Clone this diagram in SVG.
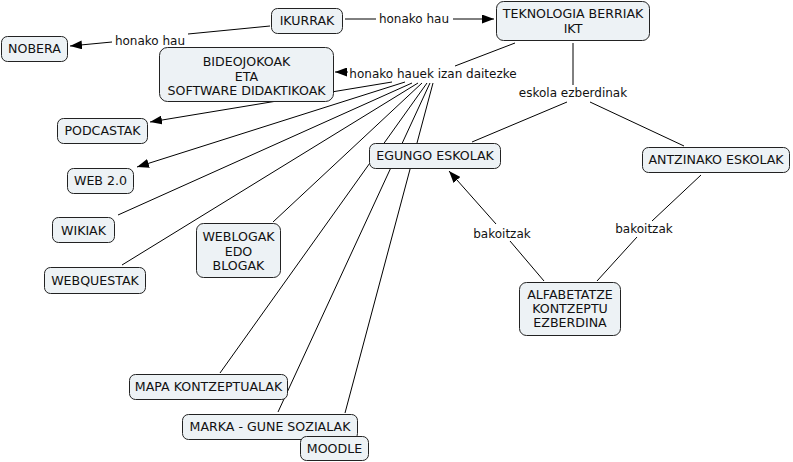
<svg xmlns="http://www.w3.org/2000/svg" width="793" height="462" viewBox="0 0 793 462">
<defs>
<marker id="arr" viewBox="0 0 12 9" refX="12" refY="4.5" markerWidth="12" markerHeight="9" markerUnits="userSpaceOnUse" orient="auto">
<path d="M0,0 L12,4.5 L0,9 z" fill="#000"/>
</marker>
<style>
rect.n{fill:#edf2f5;stroke:#222;stroke-width:1}
text{font-family:"DejaVu Sans",Verdana,sans-serif;font-size:12px;fill:#111;text-anchor:middle}
g.node text{font-size:12.6px}
#connectors line{stroke:#000;stroke-width:1;fill:none}
line.a{marker-end:url(#arr)}
</style>
</defs>
<rect width="793" height="462" fill="#fff"/>
<g id="connectors">
<line x1="270" y1="26" x2="188" y2="34"/>
<line class="a" x1="112" y1="42" x2="70" y2="46"/>
<line x1="345" y1="19" x2="376" y2="19"/>
<line class="a" x1="453" y1="19" x2="494" y2="19"/>
<line x1="515" y1="43" x2="455" y2="66"/>
<line x1="573" y1="43" x2="573" y2="85"/>
<line x1="567" y1="102" x2="472" y2="142"/>
<line x1="590" y1="102" x2="684" y2="146"/>
<line x1="544" y1="281" x2="510" y2="241"/>
<line class="a" x1="496" y1="224" x2="449" y2="171"/>
<line x1="597" y1="281" x2="637" y2="237"/>
<line x1="652" y1="221" x2="701" y2="175"/>
<line class="a" x1="348" y1="72" x2="335" y2="72"/>
<line class="a" x1="392" y1="82" x2="150" y2="122"/>
<line class="a" x1="405" y1="82" x2="137" y2="167"/>
<line x1="412" y1="83" x2="118" y2="215"/>
<line x1="418" y1="83" x2="122" y2="265"/>
<line x1="422" y1="83" x2="273" y2="222"/>
<line x1="427" y1="83" x2="220" y2="373"/>
<line x1="430" y1="83" x2="278" y2="412"/>
<line x1="433" y1="83" x2="345" y2="413"/>
</g>
<g id="labels">
<text x="150" y="45">honako hau</text>
<text x="414" y="23">honako hau</text>
<text x="433" y="78">honako hauek izan daitezke</text>
<text x="573" y="97">eskola ezberdinak</text>
<text x="502" y="238">bakoitzak</text>
<text x="644" y="233">bakoitzak</text>
</g>
<g id="n-ikurrak" class="node"><rect class="n" x="271.5" y="8.5" width="71" height="25" rx="6"/><text x="307" y="25">IKURRAK</text></g>
<g id="n-teknologia" class="node"><rect class="n" x="496.5" y="1.5" width="153" height="39" rx="7"/><text x="573" y="18">TEKNOLOGIA BERRIAK</text><text x="573" y="33">IKT</text></g>
<g id="n-nobera" class="node"><rect class="n" x="1.5" y="36.5" width="66" height="25" rx="6"/><text x="34.5" y="53">NOBERA</text></g>
<g id="n-bideojokoak" class="node"><rect class="n" x="159.5" y="47.5" width="174" height="54" rx="8"/><text x="246.5" y="66">BIDEOJOKOAK</text><text x="246.5" y="80.5">ETA</text><text x="246.5" y="95">SOFTWARE DIDAKTIKOAK</text></g>
<g id="n-podcastak" class="node"><rect class="n" x="57.5" y="118.5" width="90" height="25" rx="6"/><text x="102.5" y="135">PODCASTAK</text></g>
<g id="n-web20" class="node"><rect class="n" x="67.5" y="168.5" width="66" height="25" rx="6"/><text x="100.5" y="185">WEB 2.0</text></g>
<g id="n-wikiak" class="node"><rect class="n" x="52.5" y="217.5" width="62" height="25" rx="6"/><text x="83.5" y="235">WIKIAK</text></g>
<g id="n-webquestak" class="node"><rect class="n" x="44.5" y="267.5" width="101" height="26" rx="6"/><text x="95" y="285">WEBQUESTAK</text></g>
<g id="n-weblogak" class="node"><rect class="n" x="196.5" y="223.5" width="84" height="54" rx="7"/><text x="238.5" y="241">WEBLOGAK</text><text x="238.5" y="255.5">EDO</text><text x="238.5" y="270">BLOGAK</text></g>
<g id="n-egungo" class="node"><rect class="n" x="369.5" y="143.5" width="131" height="25" rx="6"/><text x="435" y="160">EGUNGO ESKOLAK</text></g>
<g id="n-antzinako" class="node"><rect class="n" x="642.5" y="147.5" width="147" height="25" rx="6"/><text x="716" y="164">ANTZINAKO ESKOLAK</text></g>
<g id="n-alfabetatze" class="node"><rect class="n" x="519.5" y="282.5" width="101" height="53" rx="7"/><text x="570" y="299">ALFABETATZE</text><text x="570" y="313">KONTZEPTU</text><text x="570" y="327">EZBERDINA</text></g>
<g id="n-mapa" class="node"><rect class="n" x="129.5" y="374.5" width="158" height="25" rx="6"/><text x="208.5" y="391">MAPA KONTZEPTUALAK</text></g>
<g id="n-marka" class="node"><rect class="n" x="182.5" y="414.5" width="175" height="25" rx="6"/><text x="270" y="431">MARKA - GUNE SOZIALAK</text></g>
<g id="n-moodle" class="node"><rect class="n" x="300.5" y="436.5" width="68" height="24" rx="6"/><text x="334.5" y="453">MOODLE</text></g>
</svg>
